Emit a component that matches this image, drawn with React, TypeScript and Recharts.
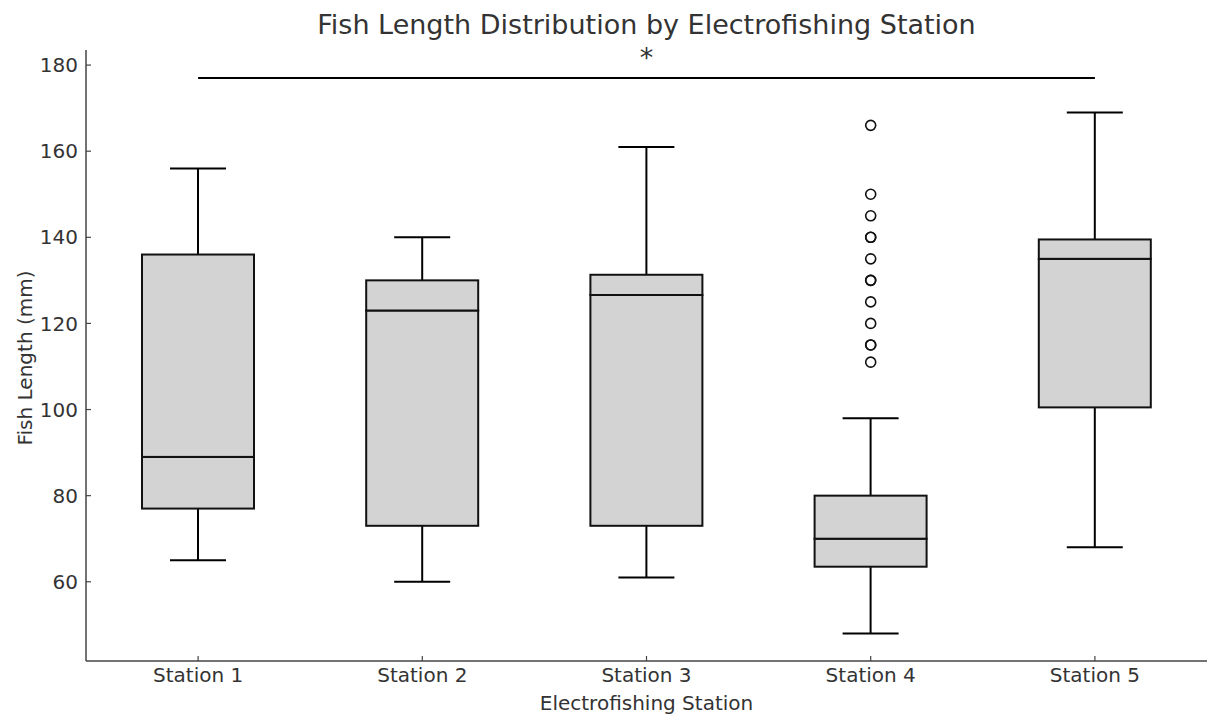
import React from 'react';
import {
  ComposedChart,
  Bar,
  Scatter,
  XAxis,
  YAxis,
  ReferenceLine,
} from 'recharts';

const stations = ['Station 1', 'Station 2', 'Station 3', 'Station 4', 'Station 5'];
const whiskerLow = [65, 60, 61, 48, 68];
const q1 = [77, 73, 73, 63.5, 100.5];
const median = [89, 123, 126.6, 70, 135];
const q3 = [136, 130, 131.3, 80, 139.5];
const whiskerHigh = [156, 140, 161, 98, 169];
const outlierStation = [4, 4, 4, 4, 4, 4, 4, 4, 4, 4, 4, 4, 4];
const outlierValues = [111, 115, 115, 120, 125, 130, 130, 135, 140, 140, 145, 150, 166];
const yTicks = [60, 80, 100, 120, 140, 160, 180];
const sigFrom = 1;
const sigTo = 5;
const sigY = 177;
const sigLabel = '*';

const title = 'Fish Length Distribution by Electrofishing Station';
const xLabel = 'Electrofishing Station';
const yLabel = 'Fish Length (mm)';

const table = stations.map((s, i) => ({
  name: s,
  lw: [whiskerLow[i], q1[i]],
  lb: [q1[i], median[i]],
  ub: [median[i], q3[i]],
  uw: [q3[i], whiskerHigh[i]],
}));

const outliers = outlierValues.map((v, i) => ({ x: outlierStation[i], y: v }));

const W = 1207;
const H = 716;
const FONT = '"DejaVu Sans", sans-serif';
const TEXT = '#333';
const AXIS = '#444';

const norm = (p: any) => {
  const top = Math.min(p.y, p.y + p.height);
  const bottom = Math.max(p.y, p.y + p.height);
  const cx = p.x + p.width / 2;
  return { top, bottom, cx, w: p.width };
};

const LowerWhisker = (p: any) => {
  const { top, bottom, cx, w } = norm(p);
  return (
    <g>
      <line x1={cx} x2={cx} y1={top} y2={bottom} stroke="#000" strokeWidth={2} />
      <line x1={cx - w / 4} x2={cx + w / 4} y1={bottom} y2={bottom} stroke="#000" strokeWidth={2} />
    </g>
  );
};

const UpperWhisker = (p: any) => {
  const { top, bottom, cx, w } = norm(p);
  return (
    <g>
      <line x1={cx} x2={cx} y1={top} y2={bottom} stroke="#000" strokeWidth={2} />
      <line x1={cx - w / 4} x2={cx + w / 4} y1={top} y2={top} stroke="#000" strokeWidth={2} />
    </g>
  );
};

const BoxHalf = (p: any) => {
  const { top, bottom } = norm(p);
  return (
    <rect
      x={p.x}
      y={top}
      width={p.width}
      height={bottom - top}
      fill="#d3d3d3"
      stroke="#111"
      strokeWidth={2}
    />
  );
};

const Outlier = (p: any) => (
  <circle cx={p.cx} cy={p.cy} r={5} fill="none" stroke="#111" strokeWidth={1.6} />
);

export default function App() {
  return (
    <div style={{ position: 'absolute', left: 0, top: 0, width: W, height: H, background: '#fff' }}>
      <ComposedChart
        width={W}
        height={H}
        data={table}
        margin={{ top: 50, right: 0, bottom: 0, left: 0 }}
        barSize={112}
        barGap={-112}
        style={{ fontFamily: FONT }}
      >
        <XAxis
          dataKey="name"
          type="category"
          height={55}
          tickSize={-5}
          tickMargin={12}
          axisLine={{ stroke: AXIS, strokeWidth: 1.5 }}
          tickLine={{ stroke: AXIS, strokeWidth: 1.2 }}
          tick={{ fill: TEXT, fontSize: 20, fontFamily: FONT }}
          interval={0}
        />
        <XAxis
          xAxisId="num"
          dataKey="x"
          type="number"
          domain={[0.5, 5.5]}
          allowDataOverflow
          hide
        />
        <YAxis
          type="number"
          domain={[41.6, 183.5]}
          allowDataOverflow
          ticks={yTicks}
          width={86}
          tickSize={-5}
          tickMargin={13}
          axisLine={{ stroke: AXIS, strokeWidth: 1.5 }}
          tickLine={{ stroke: AXIS, strokeWidth: 1.2 }}
          tick={{ fill: TEXT, fontSize: 20, fontFamily: FONT }}
          interval={0}
        />
        <Bar dataKey="lw" shape={LowerWhisker} isAnimationActive={false} />
        <Bar dataKey="uw" shape={UpperWhisker} isAnimationActive={false} />
        <Bar dataKey="lb" shape={BoxHalf} isAnimationActive={false} />
        <Bar dataKey="ub" shape={BoxHalf} isAnimationActive={false} />
        <Scatter
          data={outliers}
          xAxisId="num"
          dataKey="y"
          shape={Outlier}
          isAnimationActive={false}
        />
        <ReferenceLine
          xAxisId="num"
          segment={[
            { x: sigFrom, y: sigY },
            { x: sigTo, y: sigY },
          ]}
          stroke="#000"
          strokeWidth={2}
          ifOverflow="visible"
          label={{ value: sigLabel, position: 'top', offset: 11, fontSize: 27, fill: TEXT, fontFamily: FONT }}
        />
      </ComposedChart>
      <svg
        width={W}
        height={H}
        style={{ position: 'absolute', left: 0, top: 0, pointerEvents: 'none' }}
      >
        <text x={646.5} y={34} textAnchor="middle" fontSize={27} fill={TEXT} fontFamily={FONT}>
          {title}
        </text>
        <text x={646.5} y={710} textAnchor="middle" fontSize={20} fill={TEXT} fontFamily={FONT}>
          {xLabel}
        </text>
        <text
          x={31.5}
          y={358}
          textAnchor="middle"
          fontSize={20}
          fill={TEXT}
          fontFamily={FONT}
          transform="rotate(-90 31.5 358)"
        >
          {yLabel}
        </text>
      </svg>
    </div>
  );
}
